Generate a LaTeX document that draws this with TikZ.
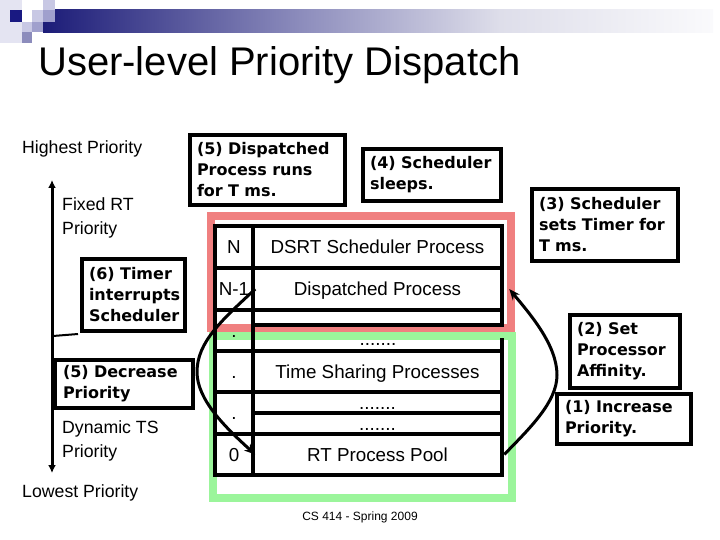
\documentclass[tikz,border=0pt]{standalone}
\usepackage{fontspec}
\setmainfont{Liberation Sans}
\newfontfamily\dvs{DejaVu Sans}
\usetikzlibrary{arrows.meta}
\definecolor{navyA}{RGB}{28,28,120}
\definecolor{barB}{RGB}{140,140,188}
\definecolor{barC}{RGB}{222,222,234}
\definecolor{barD}{RGB}{250,250,252}
\definecolor{sqL}{RGB}{228,228,242}
\definecolor{sqM}{RGB}{200,200,228}
\definecolor{sqK}{RGB}{160,160,205}
\definecolor{sqN}{RGB}{25,25,130}
\definecolor{pinkR}{RGB}{240,128,128}
\definecolor{greenR}{RGB}{155,245,155}
\tikzset{
  lbl/.style={font=\fontsize{17.7}{24}\selectfont, inner sep=0pt, align=left, anchor=west},
  box/.style={draw, line width=4pt, inner sep=0pt, align=left,
    font=\dvs\bfseries\fontsize{16}{21}\selectfont},
  cellbox/.style={draw, line width=4.5pt, inner sep=0pt, text height=13.6pt, text depth=0pt,
    font=\fontsize{18.8}{22}\selectfont},
  celltext/.style={inner sep=0pt, text height=13.6pt, text depth=0pt,
    font=\fontsize{18.8}{22}\selectfont},
  flow/.style={line width=3pt, -{Stealth[length=11pt,width=9pt]}},
  axis/.style={line width=3pt, {Latex[length=8pt,width=8pt]}-{Latex[length=8pt,width=8pt]}}
}
\begin{document}
\begin{tikzpicture}[x=1pt,y=-1pt]
\useasboundingbox (0,0) rectangle (720,540);
% --- header decoration
\fill[sqL] (0,0) rectangle (22,43);
\shade[left color=navyA, right color=barB] (43,10) rectangle (300,33);
\shade[left color=barB, right color=barC] (300,10) rectangle (500,33);
\shade[left color=barC, right color=barD] (500,10) rectangle (713,33);
\fill[sqM] (43,0) rectangle (55,10);
\fill[sqN] (10,10) rectangle (22,22);
\fill[white] (22,10) rectangle (32,22);
\fill[sqM] (32,10) rectangle (43,22);
\fill[sqK] (43,10) rectangle (55,22);
\fill[sqM] (22,22) rectangle (32,32);
\fill[sqK] (32,22) rectangle (43,32);
\fill[barB] (22,32) rectangle (32,43);
% --- title
\node[anchor=base west, inner sep=0pt, font=\fontsize{40}{48}\selectfont] (title) at (38,76) {User-level Priority Dispatch};
% --- left labels and axis
\node[lbl] (hp) at (22,149.4) {Highest Priority};
\node[lbl] (frt) at (62,218.4) {Fixed RT\\Priority};
\node[lbl] (dts) at (62,441.4) {Dynamic TS\\Priority};
\node[lbl] (lp) at (22,493.4) {Lowest Priority};
\coordinate (axtop) at (52,180);
\coordinate (axbot) at (52,473);
\draw[axis] (axbot) -- (axtop);
\coordinate (tk1) at (53,336);
\coordinate (tk2) at (78,334);
\draw[line width=2pt] (tk1) -- (tk2);
% --- coloured frames
\draw[greenR, line width=8pt] (213,336) rectangle (512,498);
\draw[pinkR, line width=8pt] (211,216) rectangle (511,328);
% --- table: left column
\node[cellbox, minimum width=38, minimum height=42] (cN) at (234,247) {N};
\node[cellbox, minimum width=38, minimum height=42] (cN1) at (234,289) {N-1};
\node[cellbox, minimum width=38, minimum height=41] (cD1) at (234,330.5) {.};
\node[cellbox, minimum width=38, minimum height=41] (cD2) at (234,371.5) {.};
\node[cellbox, minimum width=38, minimum height=42] (cD3) at (234,413) {.};
\node[cellbox, minimum width=38, minimum height=41] (c0) at (234,454.5) {0};
% --- table: right column
\node[cellbox, minimum width=249, minimum height=42] (rDSRT) at (377.5,247) {DSRT Scheduler Process};
\node[cellbox, minimum width=249, minimum height=42] (rDisp) at (377.5,289) {Dispatched Process};
\node[cellbox, minimum width=249, minimum height=15] (rE1) at (377.5,317.5) {};
\draw[line width=4.5pt] (502,338) -- (502,351);
\node[celltext] (d1) at (378,339) {.......};
\node[cellbox, minimum width=249, minimum height=41] (rTS) at (377.5,371.5) {Time Sharing Processes};
\node[cellbox, minimum width=249, minimum height=21] (rD2) at (377.5,402.5) {.......};
\node[cellbox, minimum width=249, minimum height=21] (rD3) at (377.5,423.5) {.......};
\node[cellbox, minimum width=249, minimum height=41] (rPool) at (377.5,454.5) {RT Process Pool};
% --- annotation boxes
\node[box, minimum width=155, minimum height=70, text width=141] (b5d) at (267.5,170)
  {\mbox{(5) Dispatched}\\\mbox{Process runs}\\\mbox{for T ms.}};
\node[box, minimum width=138, minimum height=52, text width=124] (b4) at (432,175)
  {\mbox{(4) Scheduler}\\\mbox{sleeps.}};
\node[box, minimum width=103, minimum height=72, text width=89] (b6) at (133.5,295)
  {\mbox{(6) Timer}\\\mbox{interrupts}\\\mbox{Scheduler}};
\node[box, minimum width=138, minimum height=48, text width=122] (b5dec) at (124,384)
  {\mbox{(5) Decrease}\\\mbox{Priority}};
\node[box, minimum width=146, minimum height=72, text width=132] (b3) at (605,225)
  {\mbox{(3) Scheduler}\\\mbox{sets Timer for}\\\mbox{T ms.}};
\node[box, minimum width=110, minimum height=73, text width=96] (b2) at (625,351.5)
  {\mbox{(2) Set}\\\mbox{Processor}\\\mbox{Affinity.}};
\node[box, minimum width=134, minimum height=50, text width=118] (b1) at (624,419)
  {\mbox{(1) Increase}\\\mbox{Priority.}};
% --- curved arrows
\coordinate (lmid) at (197,372);
\coordinate (rmid) at (557,375);
\draw[flow] (cN1.east) .. controls (222,320) and (197,342) .. (lmid)
  .. controls (197,400) and (226,428) .. (c0.east);
\draw[flow] (rPool.east) .. controls (530,428) and (557,402) .. (rmid)
  .. controls (557,345) and (530,314) .. ([xshift=5pt]rDisp.east);
% --- footer
\node[inner sep=0pt, font=\fontsize{12}{14}\selectfont] (foot) at (360,517) {CS 414 - Spring 2009};
\end{tikzpicture}
\end{document}
